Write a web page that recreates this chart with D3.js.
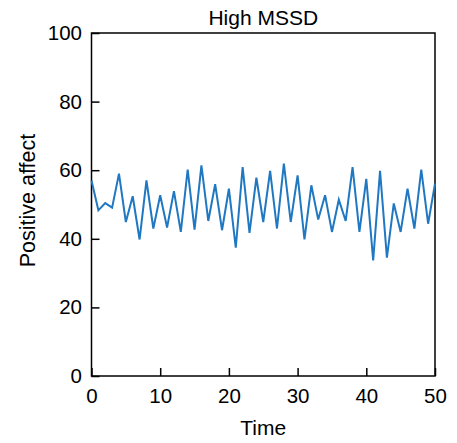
<!DOCTYPE html>
<html>
<head>
<meta charset="utf-8">
<script src="https://cdn.jsdelivr.net/npm/d3@7"></script>
<style>
  body { margin: 0; background: #fff; }
  text { font-family: "Liberation Sans", Arial, sans-serif; }
</style>
</head>
<body>
<svg id="plotSVG" width="457" height="443"></svg>
<script>
// positive affect over time
let timePoints = d3.range(0, 51)
let affectValues = [57.0, 48.3, 50.4, 49.1, 59.0, 44.9, 52.4, 39.8, 57.0, 43.0,
    52.7, 43.3, 53.9, 42.0, 60.2, 42.7, 61.4, 45.2, 55.9, 42.5,
    54.6, 37.4, 60.9, 41.7, 57.8, 44.9, 59.8, 43.0, 61.9, 44.9,
    58.5, 39.8, 55.6, 45.6, 52.7, 42.0, 51.4, 45.2, 60.9, 42.0,
    57.5, 33.7, 59.8, 34.5, 50.3, 42.0, 54.6, 43.0, 60.2, 44.4, 56.1]
let xTicks = [0, 10, 20, 30, 40, 50]
let yTicks = [0, 20, 40, 60, 80, 100]

let marginLeft = 91.5, marginTop = 33, width = 343.5, height = 343

let svg = d3.select("#plotSVG")
    .append("g")
    .attr("transform", `translate(${marginLeft},${marginTop})`)

let xScale = d3.scaleLinear().domain([0, 50]).range([0, width])
let yScale = d3.scaleLinear().domain([0, 100]).range([height, 0])

// frame
svg.append("rect")
    .attr("width", width)
    .attr("height", height)
    .attr("fill", "none")
    .attr("stroke", "#000")
    .attr("stroke-width", 1.5)

// x axis, ticks pointing inward
let xAxis = svg.append("g")
    .attr("transform", `translate(0,${height})`)
    .call(d3.axisBottom(xScale).tickValues(xTicks).tickSizeInner(-8).tickSizeOuter(0).tickPadding(0))
xAxis.select(".domain").remove()
xAxis.selectAll("line").attr("stroke-width", 1.5)
xAxis.selectAll("text").style("font-size", "20.5px").attr("fill", "#000")
    .attr("y", 27).attr("dy", null)

let yAxis = svg.append("g")
    .call(d3.axisLeft(yScale).tickValues(yTicks).tickSizeInner(-8).tickSizeOuter(0).tickPadding(9.5))
yAxis.select(".domain").remove()
yAxis.selectAll("line").attr("stroke-width", 1.5)
yAxis.selectAll("text").style("font-size", "20.5px").attr("fill", "#000")

// the series
let line = d3.line()
    .x((d, i) => xScale(timePoints[i]))
    .y(d => yScale(d))

svg.append("path")
    .datum(affectValues)
    .attr("d", line)
    .attr("fill", "none")
    .attr("stroke", "#1f78c1")
    .attr("stroke-width", 2)
    .attr("stroke-linejoin", "miter")

// titles
svg.append("text")
    .attr("x", width / 2)
    .attr("y", -8)
    .attr("text-anchor", "middle")
    .style("font-size", "21px")
    .text("High MSSD")

svg.append("text")
    .attr("x", width / 2)
    .attr("y", height + 59)
    .attr("text-anchor", "middle")
    .style("font-size", "21px")
    .text("Time")

svg.append("text")
    .attr("transform", "rotate(-90)")
    .attr("x", -167.5)
    .attr("y", -56.5)
    .attr("text-anchor", "middle")
    .style("font-size", "21.5px")
    .text("Positive affect")
</script>
</body>
</html>
